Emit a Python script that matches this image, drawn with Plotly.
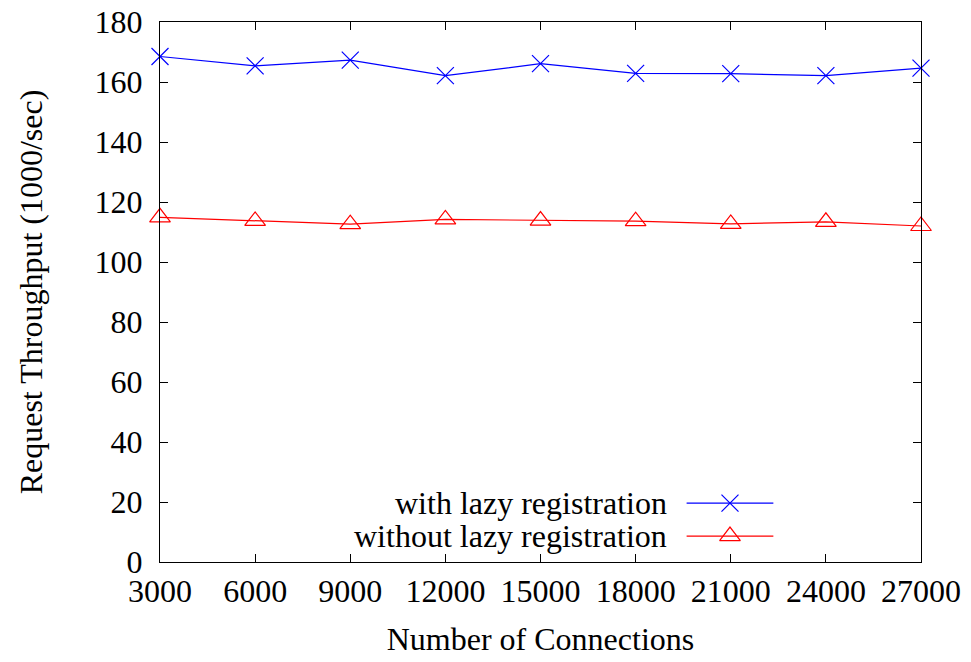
import plotly.graph_objects as go

# Throughput measured at each connection count
connections = [3000, 6000, 9000, 12000, 15000, 18000, 21000, 24000, 27000]
with_lazy = [168.5, 165.4, 167.3, 162.1, 166.1, 162.9, 162.8, 162.1, 164.6]
without_lazy = [114.9, 113.7, 112.6, 114.2, 113.8, 113.6, 112.7, 113.4, 112.0]
series_names = ["with lazy registration", "without lazy registration"]

FONT = "Liberation Serif, Times New Roman, serif"
FS = 32
BLUE = "#0000ff"
RED = "#ff0000"

fig = go.Figure()

fig.add_trace(go.Scatter(
    x=connections, y=with_lazy, mode="lines+markers", name=series_names[0],
    line=dict(color=BLUE, width=1.2),
    marker=dict(symbol="x-thin-open", size=17, color=BLUE, line=dict(color=BLUE, width=1.2)),
    cliponaxis=False, showlegend=False,
))
fig.add_trace(go.Scatter(
    x=connections, y=without_lazy, mode="lines+markers", name=series_names[1],
    line=dict(color=RED, width=1.2),
    marker=dict(symbol="triangle-up-open", size=18, color=RED, line=dict(color=RED, width=1.2)),
    cliponaxis=False, showlegend=False,
))

# Key in the lower part of the plot: right-aligned labels with a sample to the right
key_rows = [(0.109, BLUE, "x-thin-open", 17), (0.048, RED, "triangle-up-open", 18)]
for (ky, col, sym, sz), name in zip(key_rows, series_names):
    fig.add_annotation(
        x=0.669, y=ky, xref="paper", yref="paper", text=name, showarrow=False,
        xanchor="right", yanchor="middle", font=dict(family=FONT, size=FS, color="black"),
    )
    fig.add_shape(
        type="line", xref="paper", yref="paper", x0=0.692, x1=0.806, y0=ky, y1=ky,
        line=dict(color=col, width=1.2),
    )
    fig.add_trace(go.Scatter(
        x=[0.749], y=[ky], xaxis="x2", yaxis="y2", mode="markers",
        marker=dict(symbol=sym, size=sz, color=col, line=dict(color=col, width=1.2)),
        showlegend=False, hoverinfo="skip", cliponaxis=False,
    ))

axis_common = dict(
    showline=True, linecolor="black", linewidth=1.2, mirror="ticks",
    ticks="inside", ticklen=8, tickwidth=1, tickcolor="black",
    showgrid=False, zeroline=False, automargin=False,
    tickfont=dict(family=FONT, size=FS, color="black"),
)

fig.update_layout(
    width=971, height=662,
    margin=dict(l=160, r=50, t=22, b=100),
    plot_bgcolor="white", paper_bgcolor="white",
    font=dict(family=FONT, size=FS, color="black"),
    xaxis=dict(range=[3000, 27000], tickmode="array", tickvals=connections,
               ticktext=[str(c) for c in connections],
               title=dict(text="Number of Connections", font=dict(family=FONT, size=FS), standoff=20),
               **axis_common),
    yaxis=dict(range=[0, 180], dtick=20, ticklabelstandoff=10,
               title=dict(text="Request Throughput (1000/sec)", font=dict(family=FONT, size=FS), standoff=42),
               **axis_common),
    xaxis2=dict(overlaying="x", range=[0, 1], visible=False),
    yaxis2=dict(overlaying="y", range=[0, 1], visible=False),
)

fig.write_html("out.html")
